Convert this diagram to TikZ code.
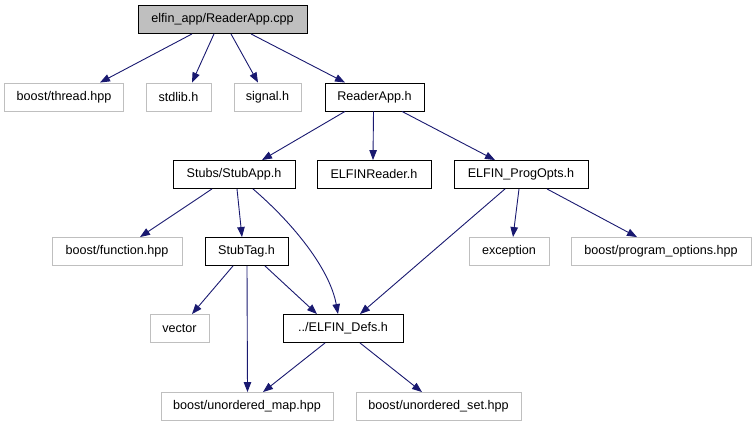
\documentclass[tikz,border=0pt]{standalone}
\usepackage{fontspec}
\setmainfont{Liberation Sans}
\usetikzlibrary{arrows.meta}
\definecolor{edgec}{HTML}{191970}
\definecolor{extc}{HTML}{BFBFBF}
\begin{document}
\begin{tikzpicture}[x=1pt,y=-1pt,
  box/.style={draw=black,line width=0.9pt,minimum height=28pt,inner sep=0pt,font=\fontsize{12.6}{14}\selectfont,anchor=center},
  ext/.style={box,draw=extc},
  rootbox/.style={box,fill=extc},
  edge/.style={draw=edgec,line width=0.9pt,-{Triangle[length=10pt,width=7.5pt]}}]
\useasboundingbox (0,0) rectangle (756,427);
\node[rootbox,minimum width=169pt] (root) at (222.5,19.5) {elfin\_app/ReaderApp.cpp};
\node[ext,minimum width=119pt] (thread) at (64,97) {boost/thread.hpp};
\node[ext,minimum width=65pt] (stdlib) at (178.5,97) {stdlib.h};
\node[ext,minimum width=67pt] (signal) at (267.5,97) {signal.h};
\node[box,minimum width=99pt] (ra) at (374.5,97) {ReaderApp.h};
\node[box,minimum width=122pt] (stubapp) at (234,174.5) {Stubs/StubApp.h};
\node[box,minimum width=114pt] (reader) at (374,174.5) {ELFINReader.h};
\node[box,minimum width=134pt] (progopts) at (521,174.5) {ELFIN\_ProgOpts.h};
\node[ext,minimum width=130pt] (function) at (117,251.5) {boost/function.hpp};
\node[box,minimum width=83pt] (stubtag) at (246.5,251.5) {StubTag.h};
\node[ext,minimum width=80pt] (exception) at (509,251.5) {exception};
\node[ext,minimum width=180pt] (po) at (661,251.5) {boost/program\_options.hpp};
\node[ext,minimum width=59pt] (vector) at (179.5,328.5) {vector};
\node[box,minimum width=120pt] (defs) at (343,328.5) {../ELFIN\_Defs.h};
\node[ext,minimum width=172pt] (umap) at (247,406.5) {boost/unordered\_map.hpp};
\node[ext,minimum width=165pt] (uset) at (438.5,406.5) {boost/unordered\_set.hpp};

\draw[edge] ([xshift=-30.5pt]root.south) -- ([xshift=36pt]thread.north);
\draw[edge] ([xshift=-8.5pt]root.south) -- ([xshift=13.5pt]stdlib.north);
\draw[edge] ([xshift=8.5pt]root.south) -- ([xshift=-9.5pt]signal.north);
\draw[edge] ([xshift=28.5pt]root.south) -- ([xshift=-29.5pt]ra.north);
\draw[edge] ([xshift=-29.5pt]ra.south) -- ([xshift=28pt]stubapp.north);
\draw[edge] ([xshift=-1pt]ra.south) -- ([xshift=-1pt]reader.north);
\draw[edge] ([xshift=27.5pt]ra.south) -- ([xshift=-26pt]progopts.north);
\draw[edge] ([xshift=-22pt]stubapp.south) -- ([xshift=23pt]function.north);
\draw[edge] ([xshift=3pt]stubapp.south) -- ([xshift=-4.5pt]stubtag.north);
\draw[edge] ([xshift=19pt]stubapp.south) .. controls (295,225) and (330,270) .. ([xshift=-5pt]defs.north);
\draw[edge] ([xshift=-13.5pt]stubtag.south) -- ([xshift=12.5pt]vector.north);
\draw[edge] ([xshift=0.5pt]stubtag.south) -- ([xshift=0.5pt]umap.north);
\draw[edge] ([xshift=18.5pt]stubtag.south) -- ([xshift=-26pt]defs.north);
\draw[edge] ([xshift=-16pt]progopts.south) -- ([xshift=17pt]defs.north);
\draw[edge] ([xshift=-2pt]progopts.south) -- ([xshift=4pt]exception.north);
\draw[edge] ([xshift=26pt]progopts.south) -- ([xshift=-24pt]po.north);
\draw[edge] ([xshift=-18pt]defs.south) -- ([xshift=16pt]umap.north);
\draw[edge] ([xshift=17pt]defs.south) -- ([xshift=-16.5pt]uset.north);
\end{tikzpicture}
\end{document}
